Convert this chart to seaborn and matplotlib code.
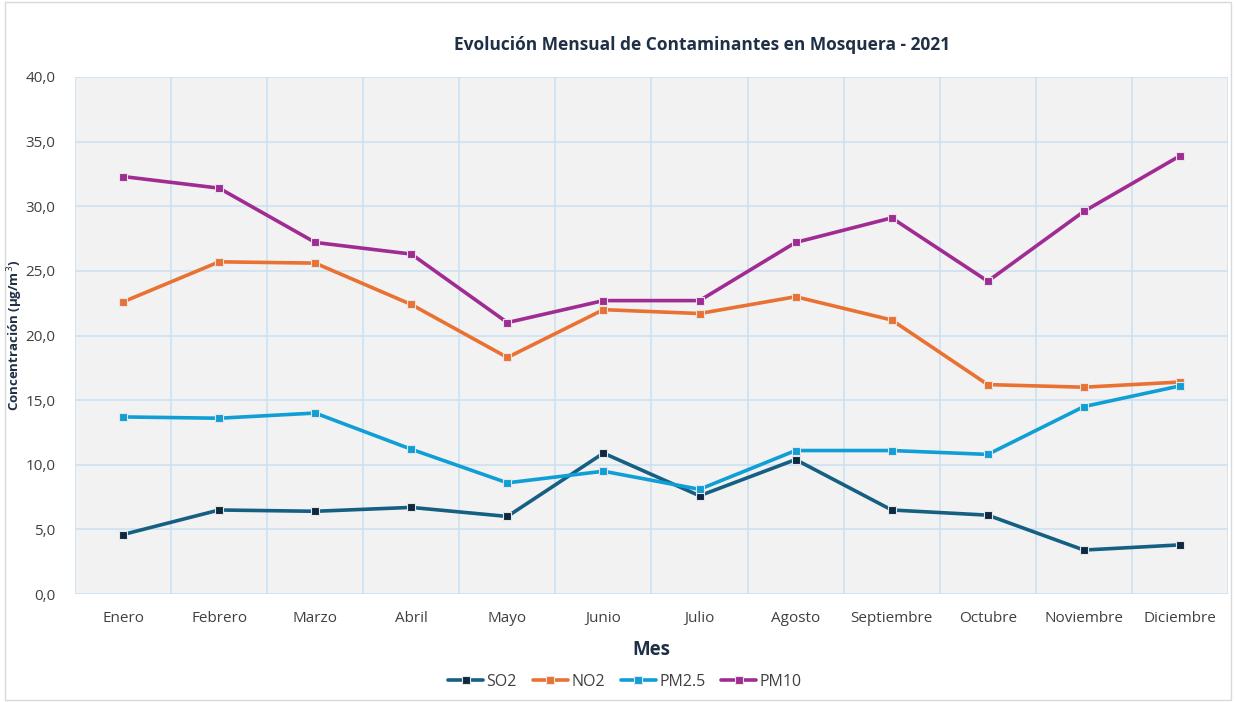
import matplotlib
matplotlib.use("Agg")
import matplotlib.pyplot as plt
import seaborn as sns
import pandas as pd
import numpy as np
from matplotlib.ticker import FuncFormatter, MultipleLocator
from matplotlib.patches import Rectangle

meses = ["Enero", "Febrero", "Marzo", "Abril", "Mayo", "Junio", "Julio",
         "Agosto", "Septiembre", "Octubre", "Noviembre", "Diciembre"]
so2 = [4.6, 6.5, 6.4, 6.7, 6.0, 10.9, 7.6, 10.4, 6.5, 6.1, 3.4, 3.8]
no2 = [22.6, 25.7, 25.6, 22.4, 18.3, 22.0, 21.7, 23.0, 21.2, 16.2, 16.0, 16.4]
pm25 = [13.7, 13.6, 14.0, 11.2, 8.6, 9.5, 8.1, 11.1, 11.1, 10.8, 14.5, 16.1]
pm10 = [32.3, 31.4, 27.2, 26.3, 21.0, 22.7, 22.7, 27.2, 29.1, 24.2, 29.6, 33.9]

series = {"SO2": so2, "NO2": no2, "PM2.5": pm25, "PM10": pm10}
line_colors = {"SO2": "#156082", "NO2": "#E97132", "PM2.5": "#0F9ED5", "PM10": "#A02B93"}
marker_colors = {"SO2": "#0E2841", "NO2": "#E97132", "PM2.5": "#0F9ED5", "PM10": "#A02B93"}

sns.set_theme(style="white")
plt.rcParams["font.family"] = ["Open Sans", "DejaVu Sans"]

text_col = "#404040"
navy = "#1F3046"
grid_col = "#CCE0F2"

fig = plt.figure(figsize=(12.36, 7.02), dpi=100)
fig.patch.set_facecolor("white")
ax = fig.add_axes([75 / 1236, 108 / 702, 1153 / 1236, 517 / 702])
ax.set_facecolor("#F2F2F2")

x = np.arange(len(meses))
for name, vals in series.items():
    df = pd.DataFrame({"x": x, "y": vals})
    sns.lineplot(data=df, x="x", y="y", ax=ax, color=line_colors[name],
                 linewidth=2.6, marker="s", markersize=6,
                 markerfacecolor=marker_colors[name], markeredgecolor="#E6E6E6",
                 markeredgewidth=0.8, label=name, zorder=3)

ax.set_xlim(-0.5, len(meses) - 0.5)
ax.set_ylim(0, 40)
ax.yaxis.set_major_locator(MultipleLocator(5))
ax.yaxis.set_major_formatter(FuncFormatter(lambda v, p: f"{v:.1f}".replace(".", ",")))
ax.set_xticks(x)
ax.set_xticklabels(meses)
ax.set_xticks(np.arange(-0.5, len(meses), 1), minor=True)
ax.grid(False)
ax.grid(True, which="minor", axis="x", color=grid_col, linewidth=1.2, zorder=0)
ax.grid(True, which="major", axis="y", color=grid_col, linewidth=1.2, zorder=0)
ax.set_axisbelow(True)
for s in ax.spines.values():
    s.set_visible(False)
ax.tick_params(axis="both", which="both", length=0, labelsize=11, labelcolor=text_col)
ax.tick_params(axis="x", pad=12)
ax.tick_params(axis="y", pad=14)

ax.set_xlabel("Mes", fontsize=13.5, fontweight="bold", color=navy, labelpad=10)
ax.set_ylabel("")
fig.text(15 / 1236, 1 - 335 / 702, "Concentración (µg/m$^3$)", rotation=90,
         ha="center", va="center", fontsize=9.5, fontweight="bold", color=navy)

fig.text(702 / 1236, 1 - 45 / 702, "Evolución Mensual de Contaminantes en Mosquera - 2021",
         ha="center", va="center", fontsize=12.5, fontweight="bold", color=navy)

handles, labels = ax.get_legend_handles_labels()
ax.legend(handles, labels, loc="center", bbox_to_anchor=(625 / 1236, 1 - 682 / 702),
          bbox_transform=fig.transFigure, ncol=4, frameon=False, fontsize=11.5,
          handlelength=2.2, columnspacing=1.0, handletextpad=0.2, labelcolor=text_col,
          markerscale=0.85)

fig.patches.append(Rectangle((5 / 1236, 2 / 702), 1226 / 1236, 698 / 702, transform=fig.transFigure,
                             fill=False, edgecolor="#D9D9D9", linewidth=1))

fig.savefig("out.png", dpi=100)
